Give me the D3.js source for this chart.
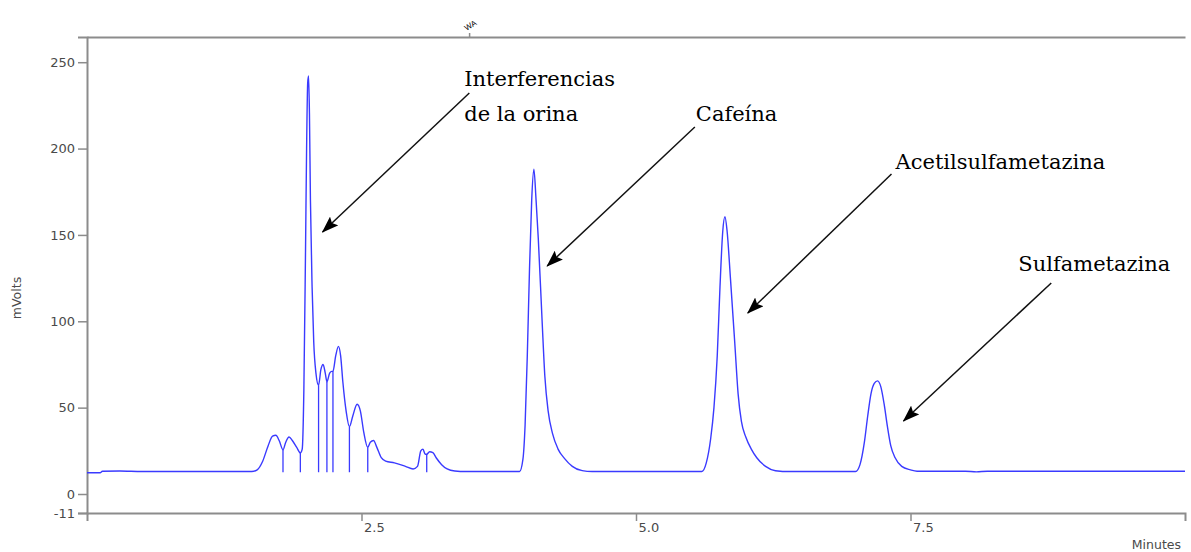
<!DOCTYPE html>
<html>
<head>
<meta charset="utf-8">
<script src="https://cdn.jsdelivr.net/npm/d3@7"></script>
<style>
    body { margin: 0; background: #fff; }
    svg { display: block; }
</style>
</head>
<body>
<div class="chromChart"></div>
<script>
// #region Data
// retention time (minutes) and signal (mVolts)
const traceTime = [0.00, 0.12, 0.14, 0.30, 0.50, 1.00, 1.50, 1.55, 1.60, 1.65, 1.69, 1.72, 1.75, 1.785, 1.81, 1.84, 1.87, 1.91, 1.943,
    1.96, 1.975, 1.99, 2.00, 2.01, 2.018, 2.026, 2.035, 2.05, 2.065, 2.085, 2.109, 2.13, 2.15, 2.17, 2.185, 2.21, 2.23, 2.24,
    2.265, 2.29, 2.31, 2.33, 2.36, 2.39, 2.42, 2.46, 2.49, 2.52, 2.557, 2.58, 2.61, 2.64, 2.68, 2.72, 2.80, 2.90, 2.97,
    3.01, 3.04, 3.06, 3.08, 3.094, 3.12, 3.15, 3.18, 3.23, 3.28, 3.35, 3.45, 3.62, 3.80, 3.94,
    3.97, 3.99, 4.01, 4.03, 4.05, 4.07, 4.09, 4.11, 4.145, 4.17, 4.20, 4.24, 4.29, 4.35, 4.42, 4.51, 4.60,
    5.60, 5.64, 5.68, 5.71, 5.74, 5.765, 5.79, 5.81, 5.83, 5.86, 5.90, 5.93, 5.96, 6.00, 6.05, 6.10, 6.18, 6.27, 6.40,
    7.00, 7.04, 7.08, 7.11, 7.14, 7.17, 7.20, 7.23, 7.26, 7.29, 7.32, 7.36, 7.42, 7.50, 7.56, 8.00, 8.10, 8.20, 8.40, 10.00];
const traceMv = [12.3, 12.3, 13.2, 13.3, 13.0, 13.0, 13.0, 14, 19, 28, 33.5, 34, 31, 25.6, 30, 33, 31, 27, 23.8,
    26, 60, 140, 200, 238, 242, 220, 170, 120, 88, 70, 63, 72, 75, 70, 65, 70, 71, 71,
    80, 85.5, 80, 65, 48, 39, 45, 52, 48, 36, 27, 30, 31, 27, 21, 19, 18, 16, 14.5,
    16, 25, 26, 23, 23, 24.5, 24, 21, 17, 14.5, 13.3, 13.0, 13.0, 13.0, 13.0,
    20, 40, 80, 130, 170, 188, 170, 148, 100, 68, 48, 35, 26, 20.5, 16, 13.5, 13.0,
    13.0, 18, 32, 50, 80, 120, 152, 160.5, 152, 125, 87, 58, 42, 33, 26, 21, 16, 13.5, 13.0,
    13.0, 17, 30, 45, 58, 64, 65.5, 62, 52, 39, 28, 21, 16, 14, 13.2, 13.2, 12.8, 13.2, 13.2, 13.2];

// integration drop lines (time, top of the line)
const dropTime = [1.785, 1.943, 2.109, 2.185, 2.24, 2.39, 2.557, 3.094];
const dropTop = [25.6, 23.8, 63, 65, 71, 39, 27, 23];
const dropBase = 12.6;

const yTicks = [250, 200, 150, 100, 50, 0, -11];
const xTicks = [2.5, 5.0, 7.5];
const xTickLabels = ['2.5', '5.0', '7.5'];
const topTicks = [3.48];
const topTickLabels = ['WA'];

// annotations: label lines, label anchor (time, mV), arrow start and arrow tip (time, mV)
const noteLines = [['Interferencias', 'de la orina'], ['Cafeína'], ['Acetilsulfametazina'], ['Sulfametazina']];
const noteTextT = [3.436, 5.545, 7.364, 8.482];
const noteTextV = [236.2, 216.0, 188.2, 129.1];
const arrowFromT = [3.482, 5.536, 7.327, 8.782];
const arrowFromV = [232.2, 212.5, 185.3, 122.2];
const arrowToT = [2.145, 4.191, 6.018, 7.436];
const arrowToV = [151.7, 132.0, 104.8, 42.3];
// #endregion

function DrawChromatogram({ divClassName, width, height }) {
    let margin = { top: 37, right: 6, bottom: 39, left: 87 };
    let axisColor = '#8c8c8c';
    let labelColor = '#4a4a4a';
    let traceColor = '#3a3aff';

    // #region Main SVG
    let svg = d3.select('.' + divClassName)
        .append('svg')
        .attr('width', width)
        .attr('height', height);

    svg.append('defs')
        .append('marker')
        .attr('id', 'arrowHead')
        .attr('viewBox', '0 0 17 12')
        .attr('refX', 16)
        .attr('refY', 6)
        .attr('markerWidth', 17)
        .attr('markerHeight', 12)
        .attr('markerUnits', 'userSpaceOnUse')
        .attr('orient', 'auto')
        .append('path')
        .attr('d', 'M0,0 L17,6 L0,12 L3,6 Z')
        .attr('fill', '#000');
    // #endregion

    // #region Scales && Axes
    let xScale = d3.scaleLinear()
        .domain([0, 10])
        .range([margin.left, width - margin.right]);
    let yScale = d3.scaleLinear()
        .domain([-11, 264.6])
        .range([height - margin.bottom, margin.top]);

    svg.append('g')
        .attr('class', 'yScale')
        .attr('transform', 'translate(' + margin.left + ',0)')
        .call(d3.axisLeft(yScale).tickValues(yTicks).tickSize(9).tickSizeOuter(9).tickPadding(3).tickFormat(d => String(d)));

    let gX = svg.append('g')
        .attr('class', 'xScale')
        .attr('transform', 'translate(0,' + (height - margin.bottom) + ')')
        .call(d3.axisBottom(xScale).tickValues(xTicks).tickSize(8).tickSizeOuter(8)
            .tickFormat((d, i) => xTickLabels[i]));
    gX.selectAll('.tick text')
        .attr('text-anchor', 'start')
        .attr('x', 2)
        .attr('y', 10);

    let gTop = svg.append('g')
        .attr('class', 'topScale')
        .attr('transform', 'translate(0,' + margin.top + ')')
        .call(d3.axisTop(xScale).tickValues(topTicks).tickSize(4).tickSizeOuter(0)
            .tickFormat((d, i) => topTickLabels[i]));
    gTop.selectAll('.tick text')
        .attr('text-anchor', 'start')
        .attr('transform', 'translate(-3,-6) rotate(-32)')
        .attr('x', 0)
        .attr('y', 0)
        .attr('dy', 0)
        .attr('font-size', 8);

    svg.selectAll('.domain, .tick line')
        .attr('stroke', axisColor)
        .attr('stroke-width', 2);
    svg.selectAll('.tick line').attr('stroke-width', 1.5);
    svg.selectAll('.xScale text, .yScale text')
        .attr('font-family', 'DejaVu Sans')
        .attr('font-size', 13)
        .attr('fill', labelColor);

    svg.append('text')
        .attr('class', 'yScaleTitle')
        .attr('transform', 'translate(21,' + 298 + ') rotate(-90)')
        .attr('text-anchor', 'middle')
        .attr('font-family', 'DejaVu Sans')
        .attr('font-size', 12.5)
        .attr('fill', labelColor)
        .text('mVolts');

    svg.append('text')
        .attr('class', 'xScaleTitle')
        .attr('x', width - 10)
        .attr('y', height - 3)
        .attr('text-anchor', 'end')
        .attr('font-family', 'DejaVu Sans')
        .attr('font-size', 12.5)
        .attr('fill', labelColor)
        .text('Minutes');
    // #endregion

    // #region Trace
    let points = traceTime.map((t, i) => [t, traceMv[i]]);
    let line = d3.line()
        .x(d => xScale(d[0]))
        .y(d => yScale(d[1]))
        .curve(d3.curveMonotoneX);

    let gTrace = svg.append('g').attr('class', 'gTrace');
    gTrace.selectAll('.drop')
        .data(dropTime)
        .enter()
        .append('line')
        .attr('class', 'drop')
        .attr('x1', d => xScale(d))
        .attr('x2', d => xScale(d))
        .attr('y1', (d, i) => yScale(dropTop[i]))
        .attr('y2', yScale(dropBase))
        .attr('stroke', traceColor)
        .attr('stroke-width', 1.3);
    gTrace.append('path')
        .datum(points)
        .attr('d', line)
        .attr('fill', 'none')
        .attr('stroke', traceColor)
        .attr('stroke-width', 1.4)
        .attr('stroke-linejoin', 'round');
    // #endregion

    // #region Annotations
    let gNotes = svg.append('g').attr('class', 'gNotes');
    gNotes.selectAll('.arrow')
        .data(arrowFromT)
        .enter()
        .append('line')
        .attr('class', 'arrow')
        .attr('x1', d => xScale(d))
        .attr('y1', (d, i) => yScale(arrowFromV[i]))
        .attr('x2', (d, i) => xScale(arrowToT[i]))
        .attr('y2', (d, i) => yScale(arrowToV[i]))
        .attr('stroke', '#111')
        .attr('stroke-width', 1.5)
        .attr('marker-end', 'url(#arrowHead)');

    let noteText = gNotes.selectAll('.note')
        .data(noteLines)
        .enter()
        .append('text')
        .attr('class', 'note')
        .attr('font-family', 'DejaVu Serif')
        .attr('font-size', 21)
        .attr('fill', '#000')
        .attr('x', (d, i) => xScale(noteTextT[i]))
        .attr('y', (d, i) => yScale(noteTextV[i]));
    noteText.selectAll('tspan')
        .data((d, i) => d.map(s => ({ s: s, x: xScale(noteTextT[i]) })))
        .enter()
        .append('tspan')
        .attr('x', d => d.x)
        .attr('dy', (d, j) => j == 0 ? 0 : 35)
        .text(d => d.s);
    // #endregion

    return svg;
}

DrawChromatogram({ divClassName: 'chromChart', width: 1191, height: 552 });
</script>
</body>
</html>
